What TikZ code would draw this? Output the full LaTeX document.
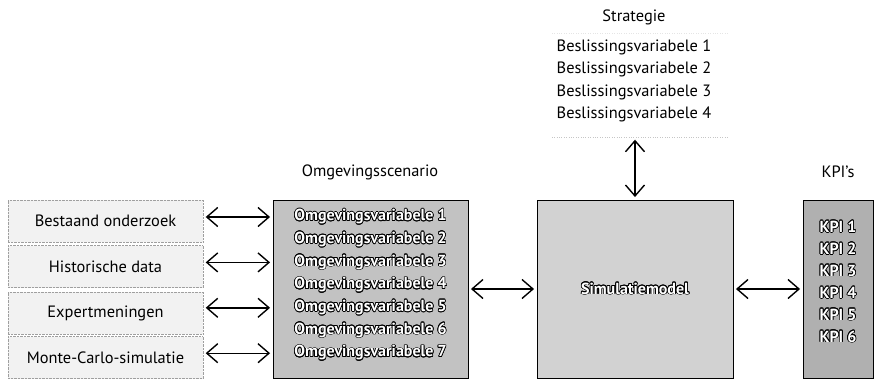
\documentclass[tikz,border=0pt]{standalone}
\usepackage{fontspec}
\setmainfont{PT Sans}
\usepackage[copies]{contour}
\contourlength{0.7pt}
\usetikzlibrary{arrows.meta}

\begin{document}
\begin{tikzpicture}[x=1pt,y=-1pt,
    font=\fontsize{16.4}{19}\selectfont,
    bron/.style={draw=gray!75, densely dotted, fill=gray!10, minimum width=195pt, minimum height=42pt, inner sep=0pt},
    blok/.style={draw=black, line width=0.9pt, inner sep=0pt},
    rij/.style={text=white, inner sep=0pt, font=\fontsize{16}{19}\selectfont\bfseries},
    pijl/.style={{Straight Barb[length=11pt,width=19pt]}-{Straight Barb[length=11pt,width=19pt]}, line width=1.4pt, shorten <=2.5pt, shorten >=2.5pt}]
      \useasboundingbox (0,0) rectangle (875,383);
      % bronnen links
      \node[bron] (b1) at (105.5,221) {Bestaand onderzoek};
      \node[bron] (b2) at (105.5,266.5) {Historische data};
      \node[bron] (b3) at (105.5,313) {Expertmeningen};
      \node[bron] (b4) at (105.5,357.5) {Monte-Carlo-simulatie};
      % omgevingsscenario
      \node[blok, fill=gray!48, minimum width=195pt, minimum height=178pt] (omg) at (370.5,289) {};
      \node (omgtitel) at (370,172) {Omgevingsscenario};
      \foreach \k in {1,...,7}
        \node[rij] (ov\k) at (370.5,{217+22.7*(\k-1)}) {\contour{black}{Omgevingsvariabele \k}};
      % simulatiemodel
      \node[blok, fill=gray!35, minimum width=196pt, minimum height=178pt, rij] (sim) at (635,289) {\contour{black}{Simulatiemodel}};
      % KPI's
      \node[blok, fill=gray!62, minimum width=70pt, minimum height=178pt] (kpi) at (838,289) {};
      \node (kpititel) at (838,172) {KPI's};
      \foreach \k in {1,...,6}
        \node[rij] (kpi\k) at (838,{227+22*(\k-1)}) {\contour{black}{KPI \k}};
      % strategie
      \node[minimum width=176pt, minimum height=104pt] (strat) at (640,85) {};
      \draw[gray!20, dotted] (strat.north west) -- (strat.north east);
      \draw[gray!45, dotted] (strat.south west) -- (strat.south east);
      \node (strattitel) at (634,17) {Strategie};
      \foreach \k in {1,...,4}
        \node (bv\k) at (634,{47+22.5*(\k-1)}) {Beslissingsvariabele \k};
      % pijlen
      \foreach \k/\r in {1/1,2/3,3/5,4/7}
        \draw[pijl] (b\k.east |- ov\r) -- (omg.west |- ov\r);
      \draw[pijl] (omg.east) -- (sim.west);
      \draw[pijl] (sim.east) -- (kpi.west);
      \draw[pijl] (sim.north |- strat.south) -- (sim.north);
\end{tikzpicture}
\end{document}
